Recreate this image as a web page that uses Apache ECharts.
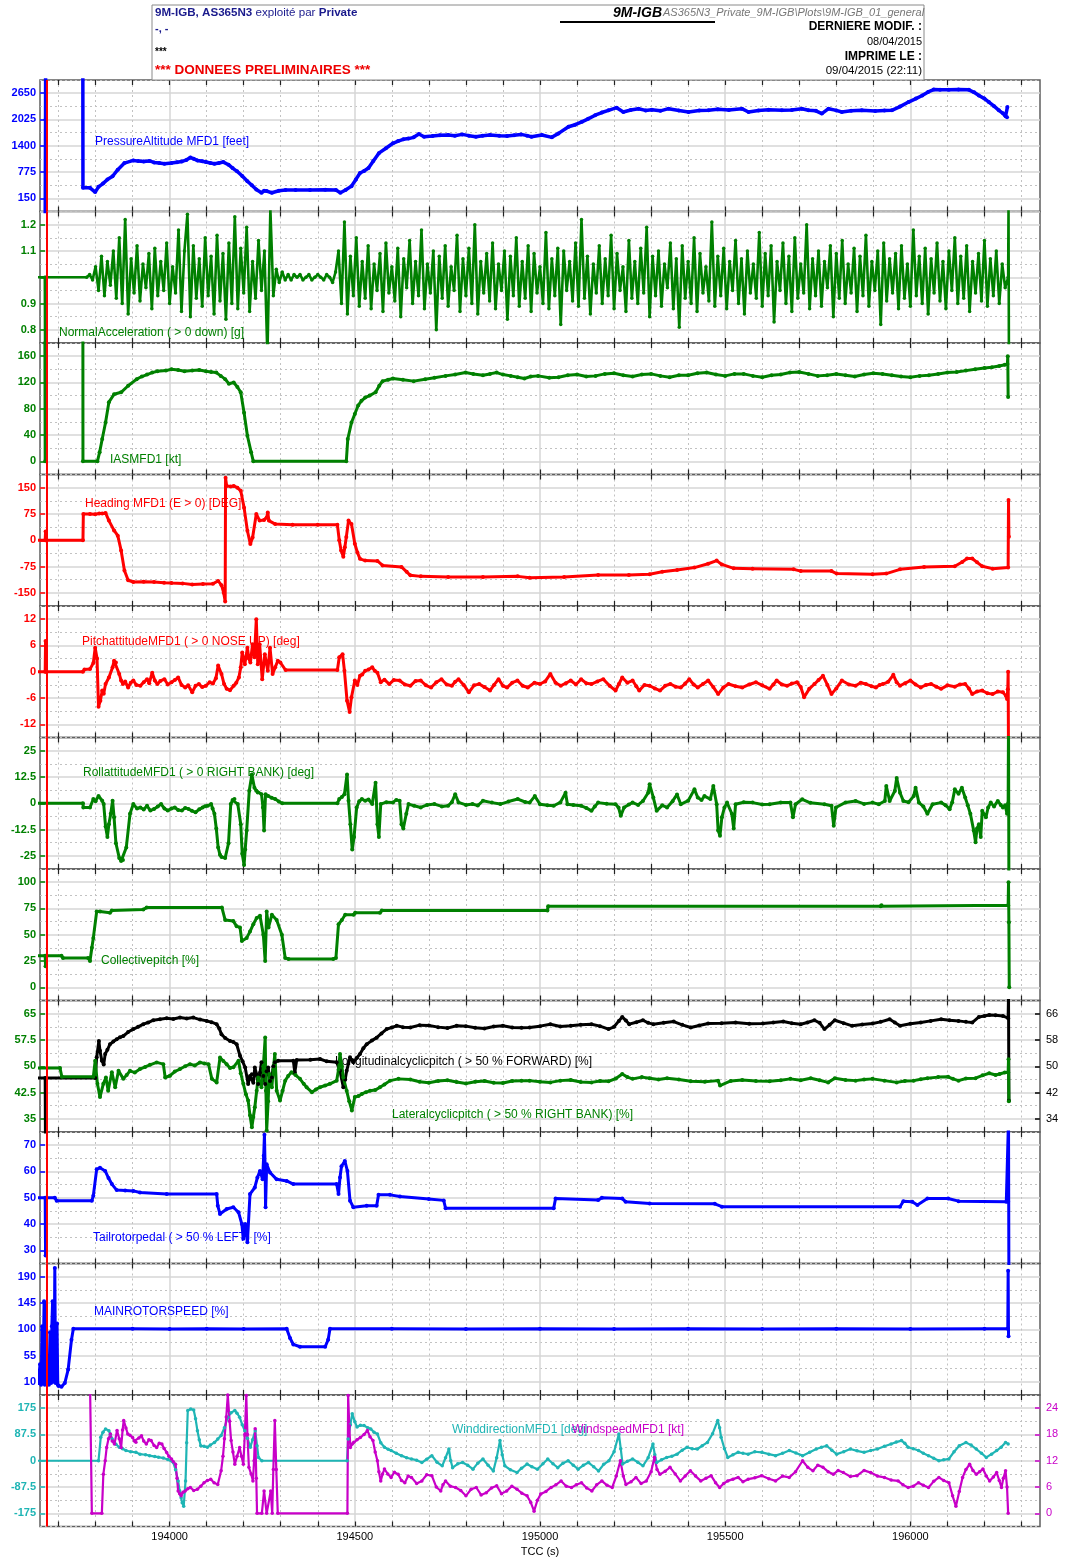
<!DOCTYPE html>
<html><head><meta charset="utf-8">
<script src="https://cdn.jsdelivr.net/npm/echarts@6/dist/echarts.min.js"></script>
<style>html,body{margin:0;padding:0;background:#fff}#c{width:1067px;height:1559px}</style>
</head><body><div id="c"></div>
<script>
// ---------- axis / tick data ----------
const T_MIN = 193650, T_MAX = 196350;
const xTickLabels = [194000, 194500, 195000, 195500, 196000];
const MARKER_T = 193668;

// ---------- series data (TCC seconds, value) ----------
const pressureAlt = [[193664,-500],[193665,2025],[193666,9000],[193765,9000],[193766,400],[193785,401],[193799,299],[193808,424],[193820,500],[193832,597],[193846,675],[193860,832],[193878,988],[193902,1051],[193915,1035],[193930,1028],[193945,1040],[193958,1004],[193972,990],[193986,973],[194005,988],[194020,1010],[194033,1028],[194045,1060],[194056,1122],[194065,1090],[194075,1051],[194088,1030],[194098,1012],[194110,990],[194121,973],[194133,990],[194145,1012],[194159,949],[194170,870],[194182,793],[194196,680],[194210,557],[194222,460],[194234,362],[194248,283],[194255,330],[194262,322],[194276,283],[194295,330],[194313,346],[194340,350],[194379,346],[194420,352],[194449,346],[194461,283],[194475,350],[194491,440],[194503,600],[194514,753],[194525,800],[194537,871],[194550,1040],[194565,1224],[194584,1340],[194603,1459],[194617,1510],[194631,1553],[194645,1570],[194659,1600],[194673,1678],[194687,1615],[194710,1630],[194730,1650],[194752,1655],[194770,1640],[194790,1670],[194808,1640],[194827,1615],[194845,1640],[194865,1655],[194890,1640],[194911,1631],[194930,1650],[194949,1670],[194965,1640],[194977,1615],[195005,1655],[195032,1600],[195050,1694],[195077,1851],[195095,1900],[195113,1968],[195130,2040],[195149,2125],[195167,2190],[195185,2242],[195207,2305],[195225,2203],[195245,2250],[195266,2281],[195285,2240],[195302,2258],[195325,2230],[195347,2281],[195375,2240],[195401,2203],[195430,2240],[195455,2242],[195480,2270],[195510,2250],[195545,2281],[195563,2203],[195590,2240],[195617,2258],[195653,2242],[195680,2250],[195707,2281],[195725,2242],[195745,2230],[195761,2164],[195779,2281],[195800,2240],[195815,2203],[195840,2230],[195869,2242],[195905,2227],[195930,2240],[195950,2242],[195972,2330],[195995,2438],[196015,2520],[196032,2595],[196048,2680],[196063,2736],[196080,2730],[196104,2728],[196130,2735],[196158,2728],[196172,2670],[196185,2595],[196200,2520],[196212,2438],[196226,2340],[196239,2242],[196250,2170],[196257,2101],[196261,2080],[196262,2320]];

const nzPre = [[193600,1.0],[193663,1.0],[193664,0.6],[193666,1.0],[193776,1.0],[193784,1.01],[193792,0.99]];
const NZ_DT = 8;
const nzA_T0 = 193800;
const nzA = [1.04,0.95,1.08,0.93,1.06,0.97,1.10,0.92,1.15,0.90,1.22,0.86,1.07,0.94,1.12,0.91,1.05,0.96,1.09,0.88,1.11,0.93,1.06,0.95,1.13,0.90,1.04,0.94,1.18,0.87,1.10,1.24,0.85,1.12,0.92,1.07,0.89,1.15,0.93,1.08,0.86,1.16,0.91,1.09,0.84,1.13,0.90,1.23,0.88,1.11,0.94,1.19,0.87,1.06,0.92,1.14,0.95,1.10,0.70,1.26,0.93];
const nzB_T0 = 194288;
const nzB = [1.03,0.98,1.02,0.99,1.01,0.99,1.01,1.00,1.01,0.99,1.00,1.01,0.99,1.00,1.01,1.00,0.99,1.01,1.00,0.98,1.02];
const nzC_T0 = 194456;
const nzC = [1.10,0.90,1.21,0.86,1.08,0.93,1.15,0.89,1.06,0.92,
1.12,0.88,1.05,0.95,1.09,0.87,1.13,0.94,1.04,0.91,
1.11,0.85,1.07,0.96,1.14,0.90,1.06,0.93,1.18,0.88,
1.05,0.94,1.10,0.80,1.08,0.92,1.12,0.89,1.04,0.95,
1.16,0.87,1.07,0.93,1.11,0.90,1.20,0.86,1.06,0.94,
1.09,0.91,1.13,0.88,1.05,0.95,1.10,0.84,1.08,0.93,
1.15,0.89,1.06,0.92,1.12,0.87,1.09,0.94,1.04,0.90,
1.17,0.88,1.07,0.93,1.11,0.82,1.10,0.95,1.06,0.91,
1.13,0.89,1.22,0.92,1.08,0.86,1.05,0.94,1.12,0.90,
1.07,0.93,1.16,0.88,1.09,0.95,1.04,0.87,1.14,0.92,
1.06,0.90,1.11,0.94,1.19,0.85,1.08,0.93,1.10,0.89,
1.05,0.96,1.13,0.88,1.07,0.81,1.12,0.92,1.06,0.90,
1.15,0.87,1.09,0.94,1.04,0.91,1.21,0.89,1.08,0.93,
1.11,0.88,1.06,0.95,1.14,0.90,1.07,0.86,1.10,0.94,
1.05,0.92,1.17,0.89,1.09,0.93,1.12,0.83,1.06,0.95,
1.13,0.90,1.08,0.87,1.15,0.92,1.05,0.94,1.20,0.88,
1.07,0.93,1.10,0.89,1.06,0.96,1.12,0.85,1.09,0.92,
1.14,0.90,1.05,0.94,1.11,0.87,1.08,0.93,1.16,0.89,
1.06,0.95,1.10,0.82,1.13,0.91,1.07,0.94,1.09,0.88,
1.12,0.92,1.05,0.89,1.18,0.93,1.08,0.90,1.11,0.86,
1.07,0.94,1.13,0.91,1.06,0.88,1.10,0.95,1.15,0.90,
1.08,0.92,1.12,0.87,1.06,0.94,1.09,0.91,1.14,0.89,
1.07,0.93,1.10,0.90,1.05,0.96,1.00];
const nzPost = [[196265,1.26],[196266,0.74]];

const ias = [[193660,999],[193664,0],[193666,999],[193765,999],[193766,0],[193805,0],[193811,14],[193818,34],[193827,59],[193836,90],[193850,102],[193869,105],[193888,115],[193911,125],[193925,129],[193939,132],[193953,135],[193967,137],[193990,138],[194005,140],[194023,139],[194040,137],[194061,138],[194080,139],[194098,137],[194112,136],[194126,135],[194138,130],[194150,125],[194160,118],[194173,120],[194183,113],[194192,105],[194201,74],[194210,39],[194220,14],[194226,0],[194477,0],[194481,34],[194491,59],[194500,72],[194509,85],[194518,92],[194528,97],[194540,100],[194556,105],[194566,115],[194575,122],[194590,124],[194603,126],[194630,124],[194659,122],[194690,125],[194715,127],[194745,130],[194771,132],[194799,135],[194820,133],[194846,131],[194865,133],[194883,135],[194900,132],[194921,130],[194940,128],[194958,126],[194975,129],[194995,130],[195025,127],[195050,128],[195075,131],[195100,132],[195125,129],[195150,130],[195175,133],[195200,134],[195225,131],[195250,129],[195275,132],[195300,133],[195325,130],[195350,128],[195375,131],[195400,131],[195425,134],[195450,135],[195475,132],[195500,130],[195525,133],[195550,133],[195575,130],[195600,128],[195625,131],[195650,132],[195675,135],[195700,136],[195725,133],[195750,130],[195775,131],[195800,133],[195825,131],[195850,129],[195875,132],[195900,134],[195925,133],[195950,131],[195975,129],[196000,128],[196025,130],[196050,131],[196075,133],[196100,135],[196125,136],[196150,138],[196175,140],[196200,142],[196220,143],[196240,145],[196255,147],[196262,148],[196263,160],[196264,98]];

const heading = [[193600,0],[193664,0],[193665,25],[193666,0],[193766,0],[193767,75],[193785,75],[193799,74],[193810,76],[193818,76],[193827,78],[193836,56],[193850,28],[193860,13],[193869,-29],[193878,-86],[193888,-114],[193902,-119],[193930,-118],[193958,-119],[193985,-121],[194005,-122],[194035,-123],[194061,-126],[194090,-125],[194117,-124],[194131,-116],[194140,-128],[194146,-150],[194150,-175],[194151,178],[194154,155],[194165,153],[194173,155],[194183,150],[194192,141],[194201,93],[194210,27],[194218,-11],[194224,8],[194234,75],[194243,56],[194255,58],[194262,65],[194265,79],[194268,56],[194285,46],[194332,44],[194400,44],[194453,44],[194458,0],[194463,-29],[194469,-47],[194473,-20],[194477,9],[194483,56],[194491,46],[194500,-10],[194507,-35],[194514,-53],[194528,-58],[194561,-59],[194575,-72],[194626,-76],[194640,-90],[194650,-100],[194678,-103],[194752,-105],[194846,-105],[194940,-103],[194972,-107],[195065,-105],[195157,-99],[195240,-99],[195296,-97],[195330,-90],[195370,-85],[195417,-78],[195454,-67],[195477,-58],[195491,-69],[195523,-80],[195574,-81],[195685,-83],[195704,-88],[195787,-88],[195801,-95],[195898,-97],[195935,-95],[195972,-83],[196037,-76],[196120,-74],[196140,-62],[196153,-52],[196167,-52],[196180,-63],[196194,-74],[196222,-81],[196264,-78],[196265,115],[196266,10]];

const pitch = [[193600,0],[193664,0],[193665,7],[193666,0],[193766,0],[193770,0.5],[193785,0.6],[193794,2],[193799,5.5],[193804,3],[193808,-8],[193813,-6.6],[193818,-4.3],[193822,-5],[193827,-2.8],[193836,-1.3],[193846,1],[193850,2.5],[193855,2.1],[193864,-0.5],[193869,-2],[193874,-2.8],[193880,-2.2],[193888,-3.6],[193895,-2.5],[193902,-2],[193910,-3],[193921,-3.2],[193930,-2.4],[193939,-1.7],[193945,-2.6],[193953,-0.2],[193960,-2],[193967,-2.8],[193975,-2.1],[193986,-1.7],[193995,-2.9],[194005,-2.4],[194014,-1.9],[194023,-1.3],[194032,-3],[194042,-3.6],[194050,-3.1],[194061,-4.7],[194070,-3.2],[194079,-2.8],[194088,-3.5],[194098,-3.2],[194108,-2.4],[194117,-2.7],[194125,-1.5],[194131,1.4],[194140,-0.5],[194147,-2.8],[194154,-3.9],[194163,-4.2],[194173,-3.2],[194180,-2.5],[194187,-1.3],[194192,1],[194196,4.4],[194203,1.7],[194210,5.5],[194214,3],[194218,2.1],[194224,6.3],[194229,3.3],[194234,12],[194238,1.7],[194243,6.3],[194250,-1.7],[194257,4],[194265,0.2],[194271,5.5],[194278,-0.5],[194285,1],[194292,2.5],[194299,2.1],[194313,0.4],[194453,0.4],[194458,3.3],[194467,4],[194472,0.2],[194479,-6.6],[194486,-9.2],[194491,-5.8],[194500,-2],[194507,-3],[194514,-0.9],[194520,-0.6],[194528,0.2],[194537,0.5],[194547,1],[194554,0.2],[194561,-0.2],[194570,-2.4],[194580,-1.8],[194593,-2.8],[194605,-1.9],[194621,-2],[194635,-2.9],[194650,-3.2],[194664,-2.1],[194678,-2],[194692,-3.1],[194706,-3.6],[194720,-2.4],[194734,-1.7],[194748,-2.9],[194762,-3.2],[194771,-2.3],[194780,-1.7],[194794,-3],[194808,-4.7],[194822,-3.1],[194836,-2.8],[194850,-3.5],[194865,-4.3],[194876,-3],[194888,-1.7],[194900,-3.2],[194911,-3.6],[194925,-2.5],[194939,-2],[194953,-3.2],[194967,-3.6],[194985,-2.5],[195000,-2.8],[195014,-2.2],[195028,-0.5],[195042,-2.5],[195056,-3.2],[195070,-2.6],[195083,-2],[195097,-2.9],[195111,-1.7],[195125,-2.6],[195139,-2.8],[195155,-2.2],[195171,-1.7],[195188,-3.2],[195204,-4.3],[195213,-2.8],[195222,-1.3],[195236,-2.5],[195250,-2],[195260,-3.3],[195268,-4.3],[195282,-3],[195296,-3.2],[195310,-3.8],[195324,-4.3],[195338,-3.2],[195352,-2.8],[195366,-3.4],[195380,-3.6],[195392,-2.7],[195403,-1.7],[195415,-2.9],[195426,-3.6],[195440,-2.8],[195454,-2],[195468,-3.5],[195481,-5.1],[195495,-3.6],[195509,-2.8],[195528,-3.3],[195546,-3.6],[195565,-2.9],[195583,-2.4],[195600,-3.1],[195620,-3.9],[195630,-2.9],[195639,-2],[195653,-2.9],[195667,-3.2],[195680,-2.7],[195694,-2.4],[195704,-3.5],[195713,-5.8],[195727,-3.9],[195741,-2.8],[195752,-1.9],[195764,-0.9],[195776,-3],[195787,-5.1],[195800,-3.8],[195815,-2],[195834,-2.9],[195852,-3.2],[195866,-2.5],[195880,-2.8],[195895,-3.3],[195907,-3.6],[195917,-3],[195926,-2.8],[195940,-2.3],[195954,-0.7],[195963,-2.4],[195972,-3.2],[195986,-2.6],[196000,-2],[196014,-2.9],[196028,-3.6],[196042,-3],[196056,-2.8],[196070,-3.4],[196083,-3.9],[196100,-3.1],[196120,-3.4],[196134,-2.9],[196148,-2.8],[196158,-3.8],[196167,-5.1],[196180,-4.5],[196194,-4.3],[196208,-4.9],[196222,-5.1],[196236,-4.5],[196250,-4.7],[196258,-5.5],[196261,-6.2],[196263,-4],[196264,0],[196265,-20]];

const roll = [[193600,0],[193766,0],[193767,-2],[193785,-2],[193794,2],[193800,1],[193808,3.5],[193818,1.2],[193822,-0.4],[193827,-11],[193832,-16],[193836,-10],[193841,-5],[193846,1.2],[193850,-6.7],[193855,-19],[193864,-26],[193869,-27.5],[193874,-27],[193883,-21],[193893,-5],[193902,-0.4],[193912,-2.5],[193921,-2],[193930,-3],[193939,-1.2],[193948,-3.5],[193958,-2.7],[193968,-1.5],[193977,-0.4],[193986,-2.5],[193995,-3.5],[194005,-2.5],[194014,-2],[194023,-3.2],[194033,-3.5],[194042,-2.2],[194051,-2.7],[194060,-3.6],[194070,-4.3],[194080,-2.9],[194089,-2],[194096,-1.4],[194103,-1.2],[194112,-0.4],[194116,-2.5],[194121,-5],[194126,-12],[194131,-21],[194136,-24.5],[194140,-25.5],[194150,-26],[194159,-19],[194165,-0.4],[194170,1.5],[194175,2],[194184,-0.4],[194192,-10],[194196,-24],[194201,-29.4],[194204,-22],[194208,-13],[194215,5.9],[194222,13.7],[194229,7.4],[194234,6],[194238,5.1],[194248,4.3],[194252,-2],[194255,-13],[194259,4.3],[194266,3.5],[194275,2.6],[194285,2],[194295,0.8],[194304,0],[194453,0],[194458,2],[194465,3],[194472,4.3],[194479,13.7],[194483,1.2],[194488,-10],[194493,-22],[194498,-16],[194505,-2],[194512,1],[194519,2],[194528,1.2],[194537,1.8],[194547,-0.4],[194556,9.8],[194561,-10],[194565,-16],[194570,-0.4],[194585,0.5],[194603,0.4],[194612,1.6],[194621,1.2],[194626,-10],[194631,-12],[194639,-5],[194645,-0.4],[194660,-1.2],[194678,-2],[194695,-0.8],[194715,-0.4],[194735,-1.5],[194752,-1.2],[194762,0.5],[194771,4.3],[194780,0.4],[194800,-0.8],[194818,-0.4],[194832,-1.1],[194846,1.2],[194870,0.3],[194893,-0.4],[194915,0.8],[194940,2],[194960,0.6],[194972,0.3],[194986,3.4],[195000,-0.5],[195020,-0.9],[195037,-1.2],[195055,0.4],[195069,5],[195074,-0.5],[195090,-0.8],[195111,-1.2],[195125,-2.2],[195139,-3.6],[195148,-1.5],[195157,0.3],[195180,-0.2],[195204,-0.5],[195212,-2],[195218,-6],[195227,-2],[195240,-0.6],[195250,0.3],[195265,-0.8],[195278,1.1],[195292,5],[195296,9],[195306,2.7],[195315,-3.6],[195330,-1],[195343,-2],[195358,1],[195370,4.2],[195380,-0.5],[195400,1.2],[195417,6.6],[195426,2.7],[195436,1.5],[195444,3.4],[195460,2],[195468,8.2],[195477,-0.5],[195481,-13],[195486,-15.4],[195491,-6.7],[195498,-2],[195505,0.3],[195518,-5],[195523,-12],[195528,-0.5],[195550,0.5],[195574,0.3],[195600,-0.6],[195620,-0.5],[195650,0.4],[195676,0.3],[195683,-6.7],[195690,-0.5],[195708,1.9],[195730,0.2],[195768,-0.5],[195787,-1.2],[195793,-10.7],[195799,-2],[195825,0.4],[195852,1.1],[195875,-0.3],[195898,0.3],[195915,-0.5],[195931,1.1],[195935,8.2],[195944,1.1],[195958,5.8],[195963,12],[195972,5],[195981,1.1],[195995,0.5],[196009,3.4],[196014,7.4],[196023,0.3],[196035,-1.5],[196046,-5],[196060,-0.5],[196083,0.3],[196095,-0.9],[196106,-2.8],[196113,0.5],[196120,6.6],[196130,4.5],[196139,7.4],[196148,2.7],[196155,-1],[196162,-5],[196171,-13],[196176,-18.5],[196180,-12],[196185,-10],[196190,-16],[196194,-3.6],[196204,-6.7],[196210,-2],[196217,0.3],[196226,-1.5],[196236,1.1],[196244,-0.8],[196250,-2],[196256,-1],[196261,-5],[196264,0],[196265,40],[196266,-40]];

const collective = [[193600,30],[193664,30],[193665,20],[193667,30],[193708,30],[193712,28],[193780,28],[193785,25],[193790,37.7],[193794,47],[193803,72],[193812,72],[193839,71],[193844,73],[193929,74],[193938,76],[194141,76],[194150,64],[194172,63],[194181,58],[194190,57],[194195,44],[194208,47],[194217,53],[194226,60],[194235,66],[194244,68],[194253,50],[194258,25],[194262,72],[194267,57],[194276,69],[194289,64],[194303,50],[194312,28],[194321,27],[194442,27],[194449,28],[194456,60],[194465,64],[194474,69],[194497,69],[194501,71],[194568,71],[194573,73],[195020,73],[195022,77],[195920,77],[195922,78],[196264,78],[196265,100],[196266,62],[196267,0]];

const lonCyclic = [[193600,46.4],[193664,46.4],[193665,20],[193667,46.4],[193799,46.4],[193803,52.7],[193809,57.7],[193812,54.7],[193817,51.7],[193822,50.5],[193826,53.7],[193832,55],[193839,56.7],[193848,57.5],[193857,58.2],[193866,58.8],[193875,59.2],[193888,60.4],[193902,61.3],[193915,62],[193929,62.8],[193942,63.3],[193956,64],[193974,64.3],[193992,64.6],[194010,64.4],[194028,64.8],[194046,64.5],[194064,64.8],[194082,64.2],[194100,63.8],[194113,63.4],[194127,62.8],[194134,61.5],[194140,59.7],[194150,58.6],[194163,57.7],[194172,57.4],[194181,56.7],[194190,53.2],[194197,51.5],[194204,49.6],[194212,44.6],[194217,47],[194222,47.6],[194226,45],[194230,49.6],[194235,47.5],[194239,44.6],[194244,48],[194248,51.2],[194253,47],[194258,44.6],[194262,48.5],[194266,49.6],[194271,45.5],[194276,46.6],[194280,50],[194284,51.2],[194293,51.7],[194334,51.7],[194338,48.1],[194343,51.9],[194380,52],[194406,52.2],[194424,51.5],[194451,51.2],[194460,48.6],[194469,43.6],[194474,46],[194478,48.6],[194487,52.7],[194496,51.2],[194505,52.5],[194514,53.7],[194523,55.5],[194532,56.7],[194546,57.8],[194559,58.7],[194572,60],[194586,61.3],[194600,61.8],[194613,62.3],[194630,61.9],[194650,61.8],[194675,62.5],[194700,62.4],[194725,61.9],[194750,61.6],[194775,62.3],[194800,62.2],[194825,61.7],[194850,61.5],[194875,62.1],[194900,62.3],[194925,61.8],[194950,61.7],[194972,61.8],[195000,62.2],[195028,62.8],[195055,62.1],[195083,62.3],[195110,62.6],[195139,62.8],[195162,62.2],[195185,61.3],[195200,62],[195213,63.8],[195222,65],[195232,63.9],[195241,62.8],[195260,63.4],[195278,64],[195292,63.2],[195306,62.8],[195334,63.2],[195361,63.6],[195384,62.6],[195407,61.8],[195430,62.4],[195454,63],[195490,63.1],[195528,63.3],[195565,62.9],[195602,63],[195630,63.3],[195657,63.6],[195680,63.1],[195704,62.8],[195722,63.3],[195741,64],[195755,63.2],[195768,61.3],[195782,62.6],[195796,64],[195820,63.1],[195843,62.3],[195870,62.7],[195898,63],[195920,63.5],[195944,64.3],[195958,63.3],[195972,62.3],[196000,62.9],[196028,63.3],[196055,63.8],[196083,64.3],[196106,64],[196130,63.8],[196150,63.5],[196167,63.3],[196185,65],[196200,65.3],[196213,65.6],[196230,65.5],[196250,65.3],[196264,64.6],[196265,72],[196266,39.5]];

const latCyclic = [[193600,49.5],[193704,49.5],[193709,47],[193794,47],[193799,51.6],[193805,45],[193812,41.2],[193821,45],[193828,46.8],[193834,43],[193844,48.3],[193853,44],[193862,48.7],[193875,46.4],[193884,47.5],[193893,48.7],[193906,48.2],[193920,49.2],[193934,49.8],[193947,50.4],[193965,51.1],[193983,50.6],[193988,46.8],[194001,47.3],[194014,48.5],[194028,49.2],[194042,50],[194055,50.6],[194068,50.2],[194082,51.1],[194094,50.8],[194105,50.6],[194114,46.4],[194127,45.4],[194136,52.5],[194145,51.5],[194154,50.6],[194163,49.5],[194172,49.7],[194186,51.6],[194192,48],[194199,45],[194206,42],[194212,40.2],[194217,36],[194222,32.6],[194226,35.5],[194230,38.3],[194235,43],[194239,46.8],[194248,44],[194253,50],[194258,58.2],[194260,43],[194262,31.7],[194266,40],[194269,47.8],[194276,44],[194280,49],[194284,53.5],[194289,43],[194298,40.2],[194305,43],[194312,45.9],[194320,47.2],[194329,48.3],[194340,47.5],[194352,46.4],[194362,45],[194370,44],[194384,42.6],[194395,43.4],[194406,44],[194420,44.5],[194433,45],[194451,45.9],[194456,49],[194460,53.5],[194465,50],[194469,46.8],[194478,43],[194485,40],[194492,37.4],[194500,41.2],[194510,41.5],[194519,42.1],[194530,42.6],[194541,43],[194555,43.2],[194568,44],[194580,44.8],[194595,45.9],[194618,46.4],[194650,46.2],[194675,45.6],[194700,45.3],[194725,45.8],[194750,46],[194775,45.5],[194800,45.1],[194825,45.6],[194850,45.8],[194875,45.3],[194900,45.2],[194925,45.8],[194950,45.9],[194972,45.9],[195000,45.6],[195028,45.4],[195055,45.9],[195083,46.1],[195110,45.5],[195139,45.4],[195162,45.8],[195185,45.7],[195205,46.5],[195222,47.8],[195236,46.9],[195250,46.4],[195275,46.9],[195296,46.6],[195320,46.2],[195343,46.6],[195375,46.2],[195407,45.7],[195445,45.6],[195481,45.9],[195486,44.5],[195515,45.8],[195546,46.1],[195583,45.8],[195620,45.7],[195650,46],[195676,46.4],[195704,46],[195731,46.6],[195755,46],[195778,45.4],[195796,46.6],[195825,46.1],[195852,45.9],[195875,46.2],[195898,46.4],[195930,45.9],[195963,45.4],[195985,45.8],[196009,45.9],[196028,46.3],[196046,46.6],[196075,46.9],[196102,47],[196115,46.4],[196130,45.9],[196150,46.5],[196176,46.6],[196195,47.4],[196213,48],[196230,47.5],[196241,47.8],[196255,48.2],[196264,48.3],[196265,52],[196266,40]];

const tailRotor = [[193600,50],[193664,50],[193665,28],[193667,50],[193690,50],[193695,48.9],[193790,48.9],[193794,50.8],[193803,60.8],[193812,61.4],[193826,60.2],[193835,57.5],[193844,55.2],[193857,52.9],[193880,52.8],[193902,52.6],[193920,52],[193992,51.4],[194127,51.4],[194130,47],[194136,43.8],[194154,45.7],[194172,46.4],[194186,44.5],[194195,40],[194199,34.4],[194204,40],[194210,33.1],[194217,51.4],[194230,53.9],[194237,57.7],[194244,60.2],[194251,57],[194254,66],[194256,74],[194258,60],[194259,46.4],[194262,62.7],[194271,59.6],[194289,57],[194316,56.4],[194334,55.2],[194451,55.2],[194456,51.4],[194460,57.7],[194464,62],[194473,64],[194480,60.2],[194487,48.9],[194496,46.4],[194532,47],[194559,47],[194564,51.1],[194595,51.1],[194622,50.5],[194700,49.5],[194740,49],[194745,46],[195037,46],[195042,49.7],[195157,49.1],[195167,50],[195222,49.7],[195231,48.5],[195296,47.8],[195472,47.7],[195491,46.6],[195972,46.6],[195981,48.7],[196005,48.5],[196019,47.2],[196046,49.7],[196102,49.7],[196130,48.7],[196259,48.5],[196264,48.5],[196265,80],[196266,20]];

const rotorSpeed = [[193640,30],[193645,5],[193650,40],[193653,5],[193656,105],[193658,8],[193661,148],[193663,5],[193666,145],[193668,8],[193671,40],[193674,5],[193677,95],[193680,8],[193682,105],[193684,148],[193686,10],[193688,30],[193690,205],[193692,8],[193694,40],[193696,110],[193698,5],[193700,3],[193708,1.5],[193717,8],[193726,31],[193735,82],[193740,101],[193900,101],[194000,100.5],[194100,101],[194200,100.5],[194316,101],[194325,85],[194334,74],[194352,70],[194420,70],[194428,82],[194433,101],[194600,101],[194800,100.5],[195000,101],[195200,100.5],[195400,101],[195600,100.5],[195800,101],[196000,100.5],[196200,101],[196263,101],[196264,200],[196265,88]];

const windDir = [[193600,0],[193808,0],[193814,78],[193820,95],[193827,106],[193836,100],[193840,88],[193845,72],[193855,55],[193864,45],[193873,40],[193882,34],[193895,30],[193909,28],[193920,22],[193935,20],[193946,17],[193960,14],[193970,12],[193983,9],[193995,4],[194010,-6],[194016,-30],[194023,-67],[194027,-100],[194031,-123],[194034,-140],[194038,-151],[194043,-67],[194046,60],[194049,167],[194057,172],[194065,169],[194070,140],[194075,100],[194080,70],[194084,50],[194093,48],[194102,45],[194110,52],[194121,61],[194130,72],[194139,84],[194148,110],[194157,145],[194166,160],[194176,167],[194182,158],[194189,145],[194196,120],[194203,100],[194210,75],[194218,45],[194224,70],[194231,100],[194236,50],[194240,11],[194249,0],[194479,0],[194482,72],[194488,120],[194493,156],[194500,130],[194506,112],[194515,118],[194525,117],[194535,110],[194543,106],[194552,95],[194561,89],[194570,60],[194580,45],[194590,38],[194598,34],[194612,25],[194626,17],[194640,10],[194653,6],[194667,2],[194681,-6],[194694,5],[194708,17],[194722,-5],[194736,-17],[194745,10],[194754,39],[194759,0],[194764,-23],[194778,-10],[194791,-6],[194805,-15],[194819,-28],[194832,-8],[194846,6],[194860,-15],[194874,-34],[194883,10],[194892,67],[194898,20],[194905,-17],[194920,-30],[194938,-39],[194950,-25],[194965,-11],[194978,-20],[194993,-28],[195008,-10],[195021,6],[195035,-10],[195048,-23],[195062,-8],[195076,0],[195090,-15],[195103,-28],[195117,-15],[195131,-6],[195145,-20],[195158,-34],[195172,-12],[195186,0],[195200,30],[195213,89],[195218,40],[195223,-11],[195236,-2],[195250,6],[195264,-5],[195278,-17],[195292,10],[195305,56],[195310,20],[195315,-6],[195328,3],[195342,11],[195356,15],[195370,22],[195384,35],[195397,45],[195411,40],[195425,39],[195438,50],[195452,61],[195466,90],[195480,134],[195485,110],[195489,78],[195498,40],[195507,11],[195521,20],[195535,28],[195548,25],[195562,22],[195580,30],[195599,28],[195618,22],[195636,17],[195655,25],[195673,34],[195691,26],[195709,17],[195728,28],[195746,39],[195760,45],[195774,50],[195788,35],[195801,22],[195820,30],[195838,39],[195856,33],[195875,28],[195893,34],[195911,39],[195930,48],[195948,56],[195962,62],[195976,67],[195985,58],[195994,45],[196008,40],[196022,34],[196035,25],[196049,17],[196063,8],[196077,0],[196090,3],[196104,6],[196118,30],[196132,50],[196150,61],[196164,52],[196178,39],[196192,25],[196205,11],[196219,22],[196233,34],[196245,45],[196257,61],[196264,56]];

const windSpeed = [[193785,30],[193790,0],[193817,0],[193821,8.9],[193826,12],[193830,15],[193835,17],[193840,18.1],[193845,16.5],[193851,15.8],[193858,18.9],[193864,17],[193869,15],[193873,19],[193876,21.2],[193882,19.5],[193887,18.1],[193893,17.8],[193900,17.3],[193905,16.5],[193909,16.2],[193917,17.2],[193924,17.7],[193930,16.5],[193937,15.8],[193944,16.8],[193950,16.6],[193958,15.5],[193965,15],[193972,16],[193979,15.8],[193985,14.8],[193992,13.9],[193998,13],[194005,12.4],[194010,11.8],[194016,11.2],[194020,8],[194023,5.1],[194027,4.5],[194031,4],[194036,4.8],[194042,5.1],[194049,5.6],[194056,5.9],[194065,5.2],[194075,5.5],[194084,6.2],[194093,7],[194102,7.5],[194111,7.8],[194120,7],[194130,6.6],[194139,9.7],[194144,13],[194148,17],[194153,22],[194157,27],[194162,21],[194166,16.6],[194171,14],[194176,11.2],[194182,13],[194189,15],[194194,13],[194199,11.2],[194203,18],[194207,26.9],[194210,18],[194214,10.5],[194220,9],[194225,7.4],[194228,12],[194231,19.3],[194234,8],[194236,0],[194249,0],[194255,5.1],[194262,0],[194273,5.1],[194277,0],[194280,10],[194284,21.2],[194288,10],[194292,0],[194480,0],[194482,26.9],[194485,20],[194488,15],[194493,15.8],[194497,16.2],[194506,16.8],[194515,17.3],[194525,18],[194534,18.9],[194541,17.5],[194549,16.6],[194555,14],[194561,12],[194565,9.5],[194570,7.4],[194575,9],[194580,10.1],[194589,9],[194598,8.2],[194607,9.4],[194617,8.9],[194626,7.5],[194635,7],[194644,8.5],[194653,8.2],[194667,6.8],[194681,7.4],[194694,8.8],[194708,8.6],[194720,6],[194732,5.1],[194738,6.5],[194745,7.4],[194758,6.2],[194772,5.9],[194786,5.2],[194800,4],[194814,5.5],[194828,5.9],[194841,4.2],[194855,4.7],[194869,5.8],[194883,6.3],[194896,4.5],[194910,5.1],[194924,6.2],[194938,5.5],[194951,4.6],[194965,4],[194975,2.5],[194984,0.5],[194993,3],[195002,4.4],[195016,5],[195030,5.9],[195043,6.5],[195057,7.4],[195071,6.2],[195085,5.9],[195098,6.5],[195112,7],[195126,5.8],[195140,5.1],[195153,6.5],[195167,7.4],[195181,6.4],[195195,5.9],[195206,8.5],[195217,12],[195225,8.5],[195232,6.6],[195246,7.2],[195259,8.2],[195273,6.8],[195287,7.4],[195300,9.5],[195309,12.8],[195316,10],[195324,8.9],[195338,9.6],[195351,10.5],[195365,9],[195379,7.4],[195392,8.5],[195406,9.7],[195420,8.5],[195434,7.4],[195448,8],[195462,8.6],[195474,7],[195485,5.9],[195496,6.8],[195507,7.4],[195521,7.8],[195535,8.2],[195548,7.2],[195562,7.8],[195580,8.1],[195599,8.6],[195618,7.9],[195636,7.4],[195655,8.5],[195673,8.2],[195690,9.5],[195709,12],[195723,10.5],[195737,9.7],[195750,11],[195764,10.5],[195778,9.5],[195792,8.9],[195805,9.8],[195819,9.3],[195838,8.4],[195856,8.6],[195875,9.8],[195893,9.3],[195911,8.5],[195930,8.2],[195948,7.6],[195967,7.4],[195980,6.5],[195994,5.9],[196008,6.2],[196022,7],[196035,6.4],[196049,5.9],[196063,7.3],[196077,8.2],[196090,7.5],[196104,7],[196114,4],[196123,1.6],[196132,5],[196141,8.2],[196150,10],[196160,11.2],[196169,9.8],[196178,8.9],[196187,9.5],[196196,10.1],[196205,8.5],[196214,7.4],[196224,8.3],[196233,9.3],[196240,7.5],[196246,5.9],[196251,8],[196257,9.7],[196261,6],[196264,0]];

// ---------- styling ----------
const FONT = '"Liberation Sans", Arial, sans-serif';
const CLEAR = 'rgba(0,0,0,0)';
const GRID_SOLID = '#d6d6d6', GRID_DOT = '#c2c2c2';
const BLUE = '#0000ff', GREEN = '#008000', RED = '#ff0000', BLACK = '#000000', CYAN = '#1fb5b5', MAGENTA = '#c800c8';
const TOP0 = 80, PH = 131.5;

function uniform(t0, vals) { return vals.map((v, i) => [t0 + i * NZ_DT, v]); }
const normalAcc = nzPre.concat(uniform(nzA_T0, nzA), uniform(nzB_T0, nzB), uniform(nzC_T0, nzC), nzPost);

const panels = [
  {left: {first: 150, step: 625, color: BLUE}, series: [{d: pressureAlt, c: BLUE, w: 3.5, s: 4}], label: [['PressureAltitude MFD1 [feet]', 95, 142, BLUE]]},
  {left: {first: 0.8, step: 0.1, color: GREEN, skip: [1]}, series: [{d: normalAcc, c: GREEN, w: 2.6, s: 3.5}], label: [['NormalAcceleration ( > 0 down) [g]', 59, 333, GREEN]]},
  {left: {first: 0, step: 40, color: GREEN}, series: [{d: ias, c: GREEN, w: 3, s: 4}], label: [['IASMFD1 [kt]', 110, 460, GREEN]]},
  {left: {first: -150, step: 75, color: RED}, series: [{d: heading, c: RED, w: 3, s: 4}], label: [['Heading MFD1 (E > 0) [DEG]', 85, 504, RED]]},
  {left: {first: -12, step: 6, color: RED}, series: [{d: pitch, c: RED, w: 3, s: 4}], label: [['PitchattitudeMFD1 ( > 0 NOSE UP) [deg]', 82, 642, RED]]},
  {left: {first: -25, step: 12.5, color: GREEN}, series: [{d: roll, c: GREEN, w: 3, s: 4}], label: [['RollattitudeMFD1 ( > 0 RIGHT BANK) [deg]', 83, 773, GREEN]]},
  {left: {first: 0, step: 25, color: GREEN}, series: [{d: collective, c: GREEN, w: 3, s: 4}], label: [['Collectivepitch [%]', 101, 961, GREEN]]},
  {left: {first: 35, step: 7.5, color: GREEN}, right: {first: 34, step: 8, color: BLACK},
   series: [{d: lonCyclic, c: BLACK, w: 3, s: 4, r: true}, {d: latCyclic, c: GREEN, w: 3, s: 4}],
   label: [['Longitudinalcyclicpitch ( > 50 % FORWARD) [%]', 335, 1062, BLACK], ['Lateralcyclicpitch ( > 50 % RIGHT BANK) [%]', 392, 1115, GREEN]]},
  {left: {first: 30, step: 10, color: BLUE}, series: [{d: tailRotor, c: BLUE, w: 3, s: 4}], label: [['Tailrotorpedal ( > 50 % LEFT) [%]', 93, 1238, BLUE]]},
  {left: {first: 10, step: 45, color: BLUE}, series: [{d: rotorSpeed, c: BLUE, w: 3, s: 4}], label: [['MAINROTORSPEED [%]', 94, 1312, BLUE]]},
  {left: {first: -175, step: 87.5, color: CYAN}, right: {first: 0, step: 6, color: MAGENTA},
   series: [{d: windDir, c: CYAN, w: 2.2, s: 3.5}, {d: windSpeed, c: MAGENTA, w: 2.2, s: 3.5, r: true}],
   label: [['WinddirectionMFD1 [deg]', 452, 1430, CYAN], ['WindspeedMFD1 [kt]', 572, 1430, MAGENTA]]}
];

const xMinorTicks = []; for (let t = 193700; t <= 196300; t += 100) xMinorTicks.push(t);
const xDotColors = [CLEAR, GRID_DOT, CLEAR, GRID_DOT, CLEAR, GRID_DOT, CLEAR, CLEAR, CLEAR, GRID_DOT];
const xSolidColors = [CLEAR, CLEAR, CLEAR, CLEAR, CLEAR, CLEAR, CLEAR, GRID_SOLID, CLEAR, CLEAR];

const grid = [], xAxis = [], yAxis = [], series = [], graphics = [];

function addY(gi, spec, side, withGrid) {
  const half = spec.step / 2;
  const min = spec.first - half, max = spec.first + 4 * spec.step + half;
  const ticks = [0, 1, 2, 3, 4].map(k => +(spec.first + k * spec.step).toFixed(4));
  const fmt = v => {
    const k = Math.round((v - min) / half);
    if (k % 2 !== 1) return '';
    const val = +(+v).toFixed(4);
    if (spec.skip && spec.skip.includes(val)) return '';
    return String(val);
  };
  const idx = yAxis.length;
  yAxis.push({type: 'value', gridIndex: gi, position: side, min, max, interval: half,
    axisLine: {show: false, onZero: false}, axisTick: {show: false},
    axisLabel: {show: true, formatter: fmt, color: spec.color, fontSize: 11, fontFamily: FONT,
      fontWeight: side === 'left' ? 'bold' : 'normal', margin: side === 'left' ? 4 : 6},
    splitLine: withGrid ? {show: true, lineStyle: {color: [CLEAR, GRID_SOLID], width: 1.5, type: 'solid'}} : {show: false}});
  if (withGrid) {
    yAxis.push({type: 'value', gridIndex: gi, position: side, min, max, interval: half,
      axisLine: {show: false, onZero: false}, axisTick: {show: false}, axisLabel: {show: false},
      splitLine: {show: true, lineStyle: {color: [GRID_DOT, CLEAR], width: 1, type: [2, 3]}}});
  }
  yAxis.push({type: 'value', gridIndex: gi, position: side, min, max,
    axisLine: {show: false, onZero: false}, axisLabel: {show: false}, splitLine: {show: false},
    axisTick: {show: true, inside: true, length: 5, customValues: ticks, lineStyle: {color: spec.color, width: 1.5}}});
  return idx;
}

panels.forEach((p, i) => {
  grid.push({left: 40, right: 27, top: TOP0 + i * PH, height: PH, show: true,
    borderColor: '#5f5f5f', borderWidth: 1.5, backgroundColor: CLEAR});
  const xa = xAxis.length;
  xAxis.push({type: 'value', gridIndex: i, position: 'bottom', min: T_MIN, max: T_MAX, interval: 50,
    axisLine: {show: false, onZero: false}, axisTick: {show: false},
    axisLabel: i === panels.length - 1 ? {show: true, color: '#000', fontSize: 11, fontFamily: FONT, margin: 5,
      formatter: v => xTickLabels.includes(Math.round(v)) ? String(Math.round(v)) : ''} : {show: false},
    splitLine: {show: true, lineStyle: {color: xDotColors, width: 1, type: [2, 3]}}});
  xAxis.push({type: 'value', gridIndex: i, position: 'bottom', min: T_MIN, max: T_MAX, interval: 50,
    axisLine: {show: false, onZero: false}, axisTick: {show: false}, axisLabel: {show: false},
    splitLine: {show: true, lineStyle: {color: xSolidColors, width: 1.5, type: 'solid'}}});
  ['bottom', 'top'].forEach(pos => xAxis.push({type: 'value', gridIndex: i, position: pos, min: T_MIN, max: T_MAX,
    axisLine: {show: false, onZero: false}, axisLabel: {show: false}, splitLine: {show: false},
    axisTick: {show: true, inside: true, length: 5, customValues: xMinorTicks, lineStyle: {color: '#222', width: 1.2}}}));
  const yl = addY(i, p.left, 'left', true);
  const yr = p.right ? addY(i, p.right, 'right', false) : yl;
  p.series.forEach((s, k) => {
    const ser = {type: 'line', xAxisIndex: xa, yAxisIndex: s.r ? yr : yl, data: s.d,
      symbol: 'circle', symbolSize: s.s || 3, showSymbol: true, showAllSymbol: true,
      lineStyle: {color: s.c, width: s.w}, itemStyle: {color: s.c}, clip: true, silent: true, z: 3};
    if (k === 0) ser.markLine = {silent: true, symbol: ['none', 'none'], label: {show: false},
      lineStyle: {color: RED, width: 2, type: 'solid'}, data: [{xAxis: MARKER_T}]};
    series.push(ser);
  });
  p.label.forEach(([txt, x, y, col]) => graphics.push({type: 'text', x, y, z: 1,
    style: {text: txt, fill: col, font: '12px ' + FONT, align: 'left', verticalAlign: 'middle',
      textAlign: 'left', textVerticalAlign: 'middle'}}));
});

function txt(t, x, y, font, fill, align) {
  return {type: 'text', x, y, z: 5, style: {text: t, fill, font: font + ' ' + FONT, align: align || 'left',
    verticalAlign: 'middle', textAlign: align || 'left', textVerticalAlign: 'middle'}};
}
graphics.push({type: 'rect', z: 4, shape: {x: 152, y: 5, width: 772, height: 75}, style: {fill: '#fff', stroke: '#8a8a8a', lineWidth: 1}});
graphics.push({type: 'text', x: 155, y: 13, z: 5, style: {
  text: '{b|9M-IGB, AS365N3} exploité par {b|Private}', fill: '#1a1a8c', font: '11.6px ' + FONT,
  align: 'left', verticalAlign: 'middle', textAlign: 'left', textVerticalAlign: 'middle',
  rich: {b: {font: 'bold 11.6px ' + FONT, fill: '#1a1a8c'}}}});
graphics.push(txt('-, -', 155, 29, 'bold 11px', '#1a1a8c'));
graphics.push(txt('***', 155, 52, 'bold 10px', '#000'));
graphics.push(txt('*** DONNEES PRELIMINAIRES ***', 155, 70, 'bold 13.5px', '#ee0000'));
graphics.push(txt('9M-IGB', 613, 13, 'italic bold 14px', '#000'));
graphics.push({type: 'line', z: 5, shape: {x1: 560, y1: 22, x2: 715, y2: 22}, style: {stroke: '#000', lineWidth: 2}});
graphics.push(txt('AS365N3_Private_9M-IGB\\Plots\\9M-IGB_01_general', 663, 13, 'italic 11px', '#777'));
graphics.push(txt('DERNIERE MODIF. :', 922, 27, 'bold 12px', '#000', 'right'));
graphics.push(txt('08/04/2015', 922, 42, '11px', '#000', 'right'));
graphics.push(txt('IMPRIME LE :', 922, 57, 'bold 12px', '#000', 'right'));
graphics.push(txt('09/04/2015 (22:11)', 922, 71, '11.5px', '#000', 'right'));
graphics.push(txt('TCC (s)', 540, 1552, '11px', '#000', 'center'));

const chart = echarts.init(document.getElementById('c'), null, {renderer: 'canvas'});
chart.setOption({animation: false, backgroundColor: '#fff', grid, xAxis, yAxis, series, graphic: {elements: graphics}});
</script></body></html>
